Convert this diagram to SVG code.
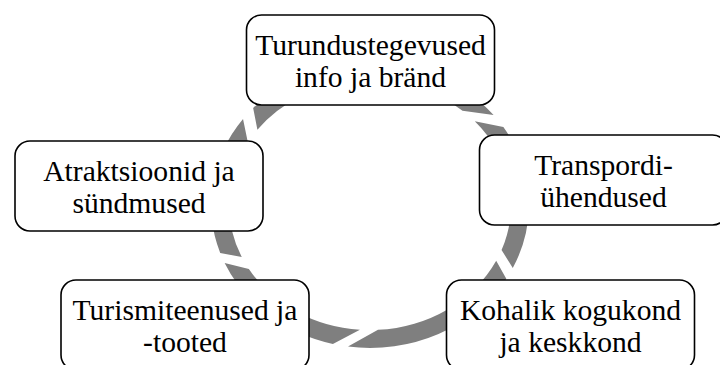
<svg xmlns="http://www.w3.org/2000/svg" width="720" height="365" viewBox="0 0 720 365">
<style>
.ring{fill:#7f7f7f;stroke:none}
.box{fill:#ffffff;stroke:#000000;stroke-width:1.6}
.lbl{font-family:'Liberation Serif',serif;font-size:29.6px;fill:#000000;text-anchor:middle}
</style>
<rect width="720" height="365" fill="#ffffff"/>
<g id="connectors">
<path class="ring" d="M 503.35 127.12 A 159 143 0 0 1 512.78 267.91 L 501.55 250.0 A 141 125 0 0 0 474.78 121.36 Z"/>
<path class="ring" d="M 506.29 278.65 A 159 143 0 0 1 348.01 346.62 L 378.0 329.8 A 141 125 0 0 0 496.18 260.78 Z"/>
<path class="ring" d="M 332.89 344.05 A 159 143 0 0 1 224.63 262.93 L 248.88 269.0 A 141 125 0 0 0 359.92 329.68 Z"/>
<path class="ring" d="M 220.21 252.97 A 159 143 0 0 1 243.02 118.94 L 247.89 142.5 A 141 125 0 0 0 241.79 257.04 Z"/>
<path class="ring" d="M 253.15 108.02 A 159 143 0 0 1 493.56 115.01 L 462.51 110.66 A 141 125 0 0 0 257.40 129.78 Z"/>
</g>
<g id="node-turundus">
<rect class="box" x="246.5" y="15" width="248" height="90" rx="15"/>
<text class="lbl" x="370.5" y="55">Turundustegevused</text>
<text class="lbl" x="370.5" y="87">info ja bränd</text>
</g>
<g id="node-transport">
<rect class="box" x="479.5" y="135" width="248" height="90" rx="15"/>
<text class="lbl" x="603.5" y="175">Transpordi-</text>
<text class="lbl" x="603.5" y="207">ühendused</text>
</g>
<g id="node-kohalik">
<rect class="box" x="446.5" y="280" width="248" height="90" rx="15"/>
<text class="lbl" x="570.5" y="320">Kohalik kogukond</text>
<text class="lbl" x="570.5" y="352">ja keskkond</text>
</g>
<g id="node-turismiteenused">
<rect class="box" x="61" y="280" width="248" height="90" rx="15"/>
<text class="lbl" x="185" y="320">Turismiteenused ja</text>
<text class="lbl" x="185" y="352">-tooted</text>
</g>
<g id="node-atraktsioonid">
<rect class="box" x="15" y="141" width="248" height="90" rx="15"/>
<text class="lbl" x="139" y="181">Atraktsioonid ja</text>
<text class="lbl" x="139" y="213">sündmused</text>
</g>
</svg>
